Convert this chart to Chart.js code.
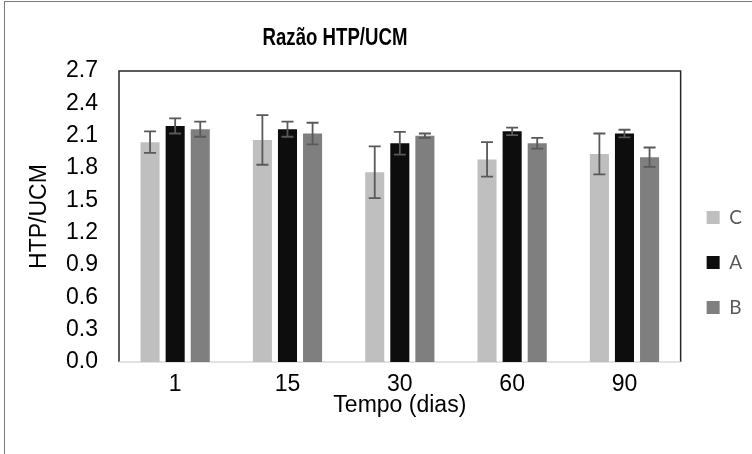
<!DOCTYPE html>
<html>
<head>
<meta charset="utf-8">
<script src="https://cdn.jsdelivr.net/npm/chart.js@4.4.0/dist/chart.umd.min.js"></script>
<style>
  body { margin: 0; background: #fff; }
  #wrap { position: relative; width: 752px; height: 454px; overflow: hidden; }
  #frame { position: absolute; left: 4px; top: 1px; width: 800px; height: 500px; border: 1px solid #7a7a7a; }
  #title {
    position: absolute; left: 215px; top: 24px; width: 240px;
    text-align: center; line-height: 28px;
    font: bold 23px "Liberation Sans", Arial, sans-serif; color: #000;
    transform: scaleX(0.81);
  }
  canvas { position: absolute; left: 0; top: 0; }
</style>
</head>
<body>
<div id="wrap">
  <div id="frame"></div>
  <canvas id="chart" width="752" height="454"></canvas>
  <div id="title">Razão HTP/UCM</div>
</div>
<script>
var days = ['1', '15', '30', '60', '90']
var valuesC = [2.04, 2.06, 1.76, 1.88, 1.93]
var valuesA = [2.19, 2.16, 2.03, 2.14, 2.12]
var valuesB = [2.16, 2.12, 2.10, 2.03, 1.90]
var errorsC = [0.10, 0.23, 0.24, 0.16, 0.19]
var errorsA = [0.07, 0.07, 0.105, 0.035, 0.035]
var errorsB = [0.07, 0.10, 0.02, 0.05, 0.09]

var tickFont = { family: '"Liberation Sans", Arial, sans-serif', size: 23 }
var titleFont = { family: '"Liberation Sans", Arial, sans-serif', size: 23 }

// plot area frame + light x axis line
var frame = {
  id: 'frame',
  beforeDatasetsDraw: function (chart) {
    var a = chart.chartArea
    var ctx = chart.ctx
    ctx.save()
    ctx.strokeStyle = '#262626'
    ctx.lineWidth = 1.5
    ctx.beginPath()
    ctx.moveTo(a.left, a.bottom)
    ctx.lineTo(a.left, a.top)
    ctx.lineTo(a.right, a.top)
    ctx.lineTo(a.right, a.bottom)
    ctx.stroke()
    ctx.strokeStyle = '#d9d9d9'
    ctx.lineWidth = 1.5
    ctx.beginPath()
    ctx.moveTo(a.left, a.bottom)
    ctx.lineTo(a.right, a.bottom)
    ctx.stroke()
    ctx.restore()
  }
}

// error bars from the errors arrays
var errorBars = {
  id: 'errorBars',
  afterDatasetsDraw: function (chart) {
    var ctx = chart.ctx
    var y = chart.scales.y
    ctx.save()
    ctx.strokeStyle = '#595959'
    ctx.lineWidth = 1.8
    chart.data.datasets.forEach(function (ds, i) {
      var meta = chart.getDatasetMeta(i)
      meta.data.forEach(function (bar, j) {
        var v = ds.data[j]
        var e = ds.errors[j]
        var top = y.getPixelForValue(v + e)
        var bot = y.getPixelForValue(v - e)
        ctx.beginPath()
        ctx.moveTo(bar.x, top)
        ctx.lineTo(bar.x, bot)
        ctx.moveTo(bar.x - 6, top)
        ctx.lineTo(bar.x + 6, top)
        ctx.moveTo(bar.x - 6, bot)
        ctx.lineTo(bar.x + 6, bot)
        ctx.stroke()
      })
    })
    ctx.restore()
  }
}

new Chart(document.getElementById('chart'), {
  type: 'bar',
  data: {
    labels: days,
    datasets: [
      { label: 'C', data: valuesC, errors: errorsC, backgroundColor: '#bfbfbf' },
      { label: 'A', data: valuesA, errors: errorsA, backgroundColor: '#0d0d0d' },
      { label: 'B', data: valuesB, errors: errorsB, backgroundColor: '#7f7f7f' }
    ]
  },
  options: {
    responsive: false,
    animation: false,
    layout: { padding: { top: 71, left: 0, right: 0, bottom: 0 } },
    datasets: {
      bar: { categoryPercentage: 0.67, barPercentage: 0.76 }
    },
    scales: {
      x: {
        grid: { display: false, drawTicks: false },
        border: { display: false },
        ticks: { color: '#000', font: tickFont, padding: 9 },
        title: {
          display: true, text: 'Tempo (dias)', color: '#000',
          font: titleFont, padding: { top: 0, bottom: 35 }
        },
        afterFit: function (scale) { scale.height = 92 }
      },
      y: {
        min: 0,
        max: 2.7,
        grid: { display: false, drawTicks: false },
        border: { display: false },
        ticks: {
          stepSize: 0.3, color: '#000', font: tickFont, padding: 21,
          callback: function (v) { return v.toFixed(1) }
        },
        title: {
          display: true, text: 'HTP/UCM', color: '#000',
          font: titleFont, padding: { top: 26, bottom: 0 }
        },
        afterFit: function (scale) { scale.width = 119 }
      }
    },
    plugins: {
      legend: {
        position: 'right',
        maxWidth: 77,
        labels: {
          boxWidth: 13, boxHeight: 13, padding: 26, color: '#595959',
          font: { family: 'Lato, "Open Sans", sans-serif', size: 19 }
        }
      },
      tooltip: { enabled: false }
    }
  },
  plugins: [frame, errorBars]
})
</script>
</body>
</html>
